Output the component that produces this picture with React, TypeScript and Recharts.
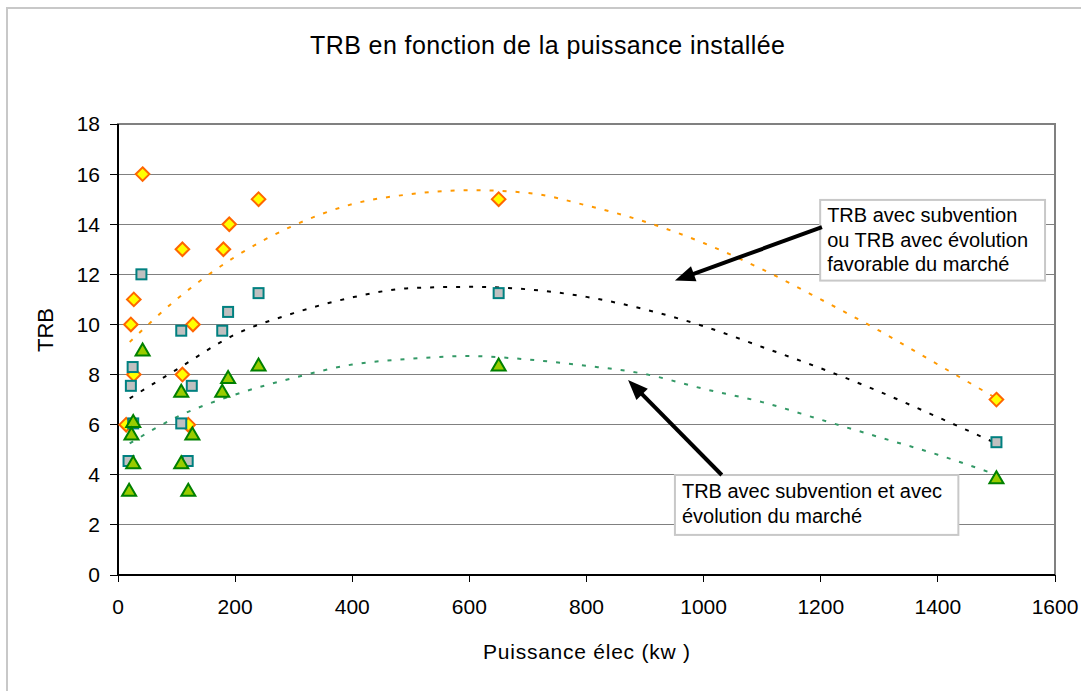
import React from 'react';
import {
  ComposedChart,
  Scatter,
  Line,
  XAxis,
  YAxis,
  CartesianGrid,
  ReferenceArea,
  ReferenceLine,
} from 'recharts';

// ---- Data ----
const diamondX = [42, 240, 190, 110, 180, 27, 22, 128, 27, 110, 14, 120, 650, 1500];
const diamondY = [16, 15, 14, 13, 13, 11, 10, 10, 8, 8, 6, 6, 15, 7];

const squareX = [40, 240, 188, 108, 178, 25, 22, 126, 26, 108, 18, 119, 650, 1500];
const squareY = [12, 11.25, 10.5, 9.75, 9.75, 8.3, 7.55, 7.55, 6.05, 6.05, 4.55, 4.55, 11.25, 5.3];

const triangleX = [42, 240, 188, 108, 178, 26, 23, 127, 26, 108, 19, 120, 650, 1500];
const triangleY = [9, 8.4, 7.9, 7.35, 7.35, 6.15, 5.65, 5.65, 4.5, 4.5, 3.4, 3.4, 8.4, 3.9];

const trendX = [20, 100, 200, 300, 400, 500, 600, 700, 800, 900, 1000, 1100, 1200, 1300, 1400, 1500];
const trendOrange = [9.3, 11.0, 12.7, 13.95, 14.8, 15.2, 15.36, 15.25, 14.75, 14.1, 13.25, 12.2, 11.0, 9.75, 8.4, 7.05];
const trendBlack = [7.05, 8.2, 9.6, 10.45, 11.08, 11.45, 11.5, 11.4, 11.1, 10.6, 9.93, 9.1, 8.25, 7.32, 6.3, 5.25];
const trendGreen = [5.25, 6.3, 7.2, 7.87, 8.4, 8.63, 8.74, 8.6, 8.35, 8.02, 7.43, 6.9, 6.2, 5.5, 4.8, 4.0];

const xTicks = [0, 200, 400, 600, 800, 1000, 1200, 1400, 1600];
const yTicks = [0, 2, 4, 6, 8, 10, 12, 14, 16, 18];

const title = 'TRB en fonction de la puissance installée';
const xLabel = 'Puissance élec (kw )';
const yLabel = 'TRB';
const note1 = ['TRB avec subvention', 'ou TRB avec évolution', 'favorable du marché'];
const note2 = ['TRB avec subvention et avec', 'évolution du marché'];

// ---- helpers ----
const zip = (xs: number[], ys: number[]) => xs.map((x, i) => ({ x, y: ys[i] }));
const FONT = '"Liberation Sans", Arial, sans-serif';

const Diamond = (p: any) => {
  const { cx, cy } = p;
  const r = 6.8;
  return (
    <polygon
      points={`${cx},${cy - r} ${cx + r},${cy} ${cx},${cy + r} ${cx - r},${cy}`}
      fill="#FFFF00"
      stroke="#FF6600"
      strokeWidth={2}
    />
  );
};

const Square = (p: any) => {
  const { cx, cy } = p;
  const s = 10;
  return (
    <rect x={cx - s / 2} y={cy - s / 2} width={s} height={s} fill="#C0C0C0" stroke="#008080" strokeWidth={2} />
  );
};

const Triangle = (p: any) => {
  const { cx, cy } = p;
  return (
    <polygon
      points={`${cx},${cy - 6} ${cx + 7},${cy + 6} ${cx - 7},${cy + 6}`}
      fill="#99CC00"
      stroke="#008000"
      strokeWidth={2}
    />
  );
};

const makeBox = (lines: string[], offsets: number[]) => (p: any) => {
  const { x, y, width, height } = p;
  return (
    <g>
      <rect x={x} y={y} width={width} height={height} fill="#FFFFFF" stroke="#C8C8C8" strokeWidth={2} />
      {lines.map((l, i) => (
        <text key={i} x={x + 7} y={y + offsets[i]} fontSize={20} fontFamily={FONT} fill="#000">
          {l}
        </text>
      ))}
    </g>
  );
};

const Arrow = (p: any) => {
  const { x1, y1, x2, y2 } = p;
  const dx = x2 - x1;
  const dy = y2 - y1;
  const len = Math.hypot(dx, dy) || 1;
  const ux = dx / len;
  const uy = dy / len;
  const headLen = 20;
  const headW = 8;
  const bx = x2 - ux * headLen;
  const by = y2 - uy * headLen;
  const px = -uy;
  const py = ux;
  return (
    <g>
      <line x1={x1} y1={y1} x2={bx + ux * 3} y2={by + uy * 3} stroke="#000" strokeWidth={4} />
      <polygon
        points={`${x2},${y2} ${bx + px * headW},${by + py * headW} ${bx - px * headW},${by - py * headW}`}
        fill="#000"
      />
    </g>
  );
};

export default function App() {
  const W = 1081;
  const H = 691;
  return (
    <div style={{ position: 'relative', width: W, height: H, background: '#fff', overflow: 'hidden' }}>
      <style>{`body{margin:0;} .recharts-cartesian-grid line, .recharts-cartesian-axis-line, .recharts-cartesian-axis-tick-line{shape-rendering:crispEdges;}`}</style>
      <ComposedChart
        width={W}
        height={H}
        margin={{ top: 124, right: 26, left: 18, bottom: 66 }}
      >
        <ReferenceArea x1={0} x2={1600} y1={0} y2={18} fill="#fff" stroke="#808080" strokeWidth={2} ifOverflow="visible" />
        <CartesianGrid vertical={false} stroke="#000" strokeWidth={1} />
        <XAxis
          type="number"
          dataKey="x"
          domain={[0, 1600]}
          ticks={xTicks}
          interval={0}
          height={50}
          tickSize={7}
          tickMargin={17}
          axisLine={{ stroke: '#000', strokeWidth: 1.5 }}
          tickLine={{ stroke: '#000' }}
          tick={{ fill: '#000', fontSize: 21, fontFamily: FONT }}
          allowDataOverflow
        />
        <YAxis
          type="number"
          dataKey="y"
          domain={[0, 18]}
          ticks={yTicks}
          interval={0}
          width={100}
          tickSize={8}
          tickMargin={10}
          axisLine={{ stroke: '#000', strokeWidth: 1.5 }}
          tickLine={{ stroke: '#000' }}
          tick={{ fill: '#000', fontSize: 21, fontFamily: FONT }}
          allowDataOverflow
        />
        <Scatter data={zip(diamondX, diamondY)} dataKey="y" shape={Diamond} isAnimationActive={false} />
        <Scatter data={zip(squareX, squareY)} dataKey="y" shape={Square} isAnimationActive={false} />
        <Scatter data={zip(triangleX, triangleY)} dataKey="y" shape={Triangle} isAnimationActive={false} />
        <Line
          data={zip(trendX, trendOrange)}
          dataKey="y"
          type="monotone"
          stroke="#FF9900"
          strokeWidth={2}
          strokeDasharray="4 9"
          dot={false}
          activeDot={false}
          isAnimationActive={false}
        />
        <Line
          data={zip(trendX, trendBlack)}
          dataKey="y"
          type="monotone"
          stroke="#000000"
          strokeWidth={2}
          strokeDasharray="4 9"
          dot={false}
          activeDot={false}
          isAnimationActive={false}
        />
        <Line
          data={zip(trendX, trendGreen)}
          dataKey="y"
          type="monotone"
          stroke="#339966"
          strokeWidth={2}
          strokeDasharray="4 9"
          dot={false}
          activeDot={false}
          isAnimationActive={false}
        />
        <ReferenceArea
          x1={1199}
          x2={1583}
          y1={11.75}
          y2={14.97}
          ifOverflow="visible"
          shape={makeBox(note1, [22.5, 47, 71.5])}
        />
        <ReferenceArea
          x1={951}
          x2={1435}
          y1={1.6}
          y2={3.99}
          ifOverflow="visible"
          shape={makeBox(note2, [22.5, 48])}
        />
        <ReferenceLine
          segment={[{ x: 1202, y: 13.88 }, { x: 951, y: 11.75 }]}
          ifOverflow="visible"
          shape={Arrow}
        />
        <ReferenceLine
          segment={[{ x: 1031, y: 3.99 }, { x: 871, y: 7.78 }]}
          ifOverflow="visible"
          shape={Arrow}
        />
      </ComposedChart>
      <svg
        width={W}
        height={H}
        style={{ position: 'absolute', left: 0, top: 0, pointerEvents: 'none' }}
      >
        <rect x={7} y={8} width={1200} height={800} fill="none" stroke="#C8C8C8" strokeWidth={2} />
        <text x={310} y={54} fontSize={25} fontFamily={FONT} fill="#000" textLength={475} lengthAdjust="spacing">
          {title}
        </text>
        <text x={483} y={659} fontSize={21} fontFamily={FONT} fill="#000" textLength={207} lengthAdjust="spacing">
          {xLabel}
        </text>
        <text
          x={53}
          y={330}
          fontSize={22}
          fontFamily={FONT}
          fill="#000"
          textAnchor="middle"
          transform="rotate(-90 53 330)"
        >
          {yLabel}
        </text>
      </svg>
    </div>
  );
}
